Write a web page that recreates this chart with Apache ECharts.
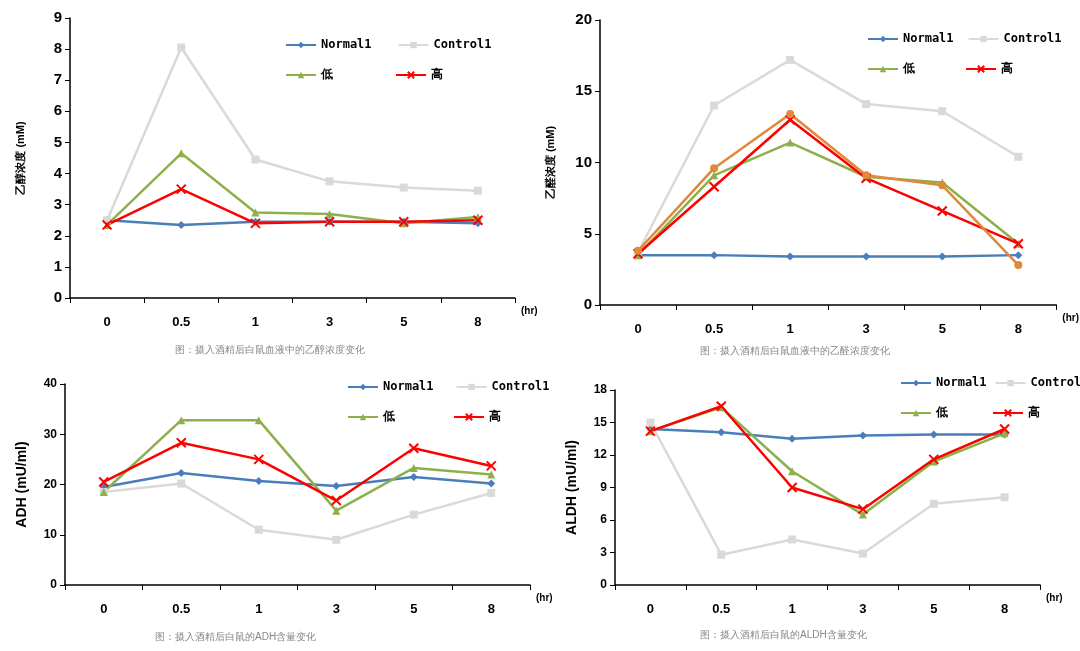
<!DOCTYPE html>
<html>
<head>
<meta charset="utf-8">
<script src="https://cdn.jsdelivr.net/npm/echarts@6/dist/echarts.min.js"></script>
<style type="text/css">
	body{margin:0;background:#fff}
	#main{width:1080px;height:651px;}
</style>
</head>
<body>
<div id="main"></div>
<script type="text/javascript">
var cats = ['0','0.5','1','3','5','8'];
var colors = {Normal1:'#4a7ebb', Control1:'#d9d9d9', low:'#8db04a', high:'#ff0000', orange:'#e0893a'};

// 四个图的数据
var charts = [
	{
		grid:{left:70, top:18, width:445, height:280},
		y:{max:9, interval:1, name:'乙醇浓度 (mM)', size:11},
		caption:{text:'图：摄入酒精后白鼠血液中的乙醇浓度变化', x:290, y:352},
		legend:{x:280, y:34, gap:26},
		data:{
			Normal1:[2.5,2.35,2.45,2.45,2.45,2.4],
			Control1:[2.5,8.05,4.45,3.75,3.55,3.45],
			low:[2.35,4.65,2.75,2.7,2.4,2.6],
			high:[2.35,3.5,2.4,2.45,2.45,2.5]
		}
	},
	{
		grid:{left:600, top:20, width:465, height:285},
		y:{max:20, interval:5, name:'乙醛浓度 (mM)', size:11},
		caption:{text:'图：摄入酒精后白鼠血液中的乙醛浓度变化', x:815, y:353},
		legend:{x:862, y:28, gap:14},
		data:{
			Normal1:[3.5,3.5,3.4,3.4,3.4,3.5],
			Control1:[3.7,14,17.2,14.1,13.6,10.4],
			low:[3.5,9.1,11.4,9.0,8.6,4.3],
			high:[3.6,8.3,13.0,8.9,6.6,4.3],
			orange:[3.8,9.6,13.4,9.1,8.4,2.8]
		}
	},
	{
		grid:{left:65, top:384, width:465, height:201},
		y:{max:40, interval:10, name:'ADH (mU/ml)', size:14},
		caption:{text:'图：摄入酒精后白鼠的ADH含量变化', x:270, y:639},
		legend:{x:342, y:376, gap:22},
		data:{
			Normal1:[19.5,22.3,20.7,19.7,21.5,20.2],
			Control1:[18.5,20.2,11,9,14,18.3],
			low:[18.5,32.8,32.8,14.8,23.3,22],
			high:[20.5,28.3,25,16.8,27.2,23.7]
		}
	},
	{
		grid:{left:615, top:390, width:425, height:195},
		y:{max:18, interval:3, name:'ALDH (mU/ml)', size:14},
		caption:{text:'图：摄入酒精后白鼠的ALDH含量变化', x:815, y:637},
		legend:{x:895, y:372, gap:8},
		data:{
			Normal1:[14.4,14.1,13.5,13.8,13.9,13.9],
			Control1:[15,2.8,4.2,2.9,7.5,8.1],
			low:[14.2,16.4,10.5,6.5,11.4,14],
			high:[14.2,16.5,9,7,11.6,14.4]
		}
	}
];

var symbols = {Normal1:'diamond', Control1:'rect', low:'triangle', high:'path://M0,0L10,10M10,0L0,10', orange:'circle'};
var names = {Normal1:'Normal1', Control1:'Control1', low:'低', high:'高', orange:'orange'};

var option = {grid:[], xAxis:[], yAxis:[], series:[], legend:[], graphic:[], animation:false};

charts.forEach(function(c, i){
	option.grid.push(c.grid);
	option.xAxis.push({
		type:'category', gridIndex:i, data:cats, boundaryGap:true,
		name:'(hr)', nameGap:6, nameTextStyle:{fontSize:10, fontWeight:'bold', color:'#000', verticalAlign:'top', padding:[8,0,0,0]},
		axisLine:{lineStyle:{color:'#000', width:1.5}},
		axisTick:{show:true, inside:false, length:5, lineStyle:{color:'#000'}},
		axisLabel:{fontWeight:'bold', fontSize:13, color:'#000', margin:18}
	});
	option.yAxis.push({
		type:'value', gridIndex:i, min:0, max:c.y.max, interval:c.y.interval,
		name:c.y.name, nameLocation:'middle', nameGap:c.y.size > 12 ? 36 : 44, nameRotate:90,
		nameTextStyle:{fontSize:c.y.size, fontWeight:'bold', color:'#000'},
		splitLine:{show:false},
		axisLine:{show:true, lineStyle:{color:'#000', width:1.5}},
		axisTick:{show:true, length:5, lineStyle:{color:'#000'}},
		axisLabel:{fontSize:c.y.size > 12 ? 12 : 15, fontWeight:'bold', color:'#000'}
	});
	Object.keys(c.data).forEach(function(k){
		option.series.push({
			name:names[k], type:'line', xAxisIndex:i, yAxisIndex:i,
			data:c.data[k], symbol:symbols[k], symbolSize:k=='high'?9:8,
			lineStyle:{color:colors[k], width:2.5},
			itemStyle:{color:colors[k], borderColor:colors[k], borderWidth:k=='high'?2:0}
		});
	});
	// 图例分两行
	var ls = {fontFamily:'DejaVu Sans Mono', fontWeight:'bold', fontSize:12, color:'#000'};
	option.legend.push({data:['Normal1','Control1'], left:c.legend.x, top:c.legend.y, width:400, itemGap:c.legend.gap, itemWidth:30, itemHeight:8, textStyle:ls});
	option.legend.push({data:['低','高'], left:c.legend.x, top:c.legend.y+30, width:400, itemGap:c.legend.gap+36, itemWidth:30, itemHeight:8, textStyle:ls});
	option.graphic.push({type:'text', left:c.caption.x - 115, top:c.caption.y - 7,
		style:{text:c.caption.text, fontSize:10, fill:'#888'}});
});

var chart = echarts.init(document.getElementById('main'));
chart.setOption(option);
</script>
</body>
</html>
